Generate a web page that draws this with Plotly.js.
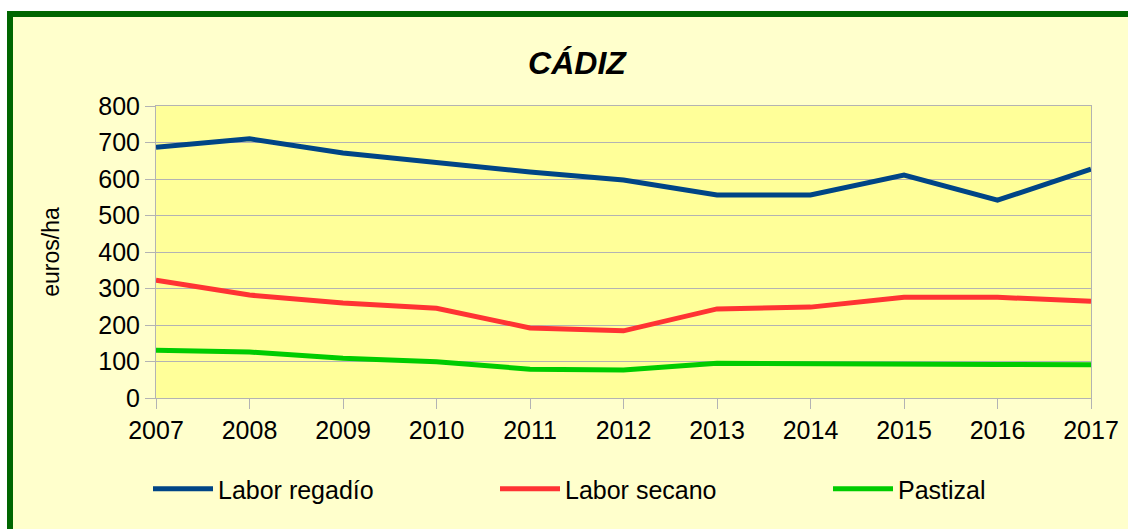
<!DOCTYPE html>
<html>
<head>
<meta charset="utf-8">
<script src="https://cdn.plot.ly/plotly-3.0.1.min.js"></script>
<style>
  html, body { margin: 0; padding: 0; background: #ffffff; width: 1128px; height: 529px; overflow: hidden; }
  #frame { position: absolute; left: 7px; top: 11px; width: 1140px; height: 540px; border: 6px solid #006600; background: #FFFFCC; }
  #chart { position: absolute; left: 0; top: 0; width: 1128px; height: 529px; }
</style>
</head>
<body>
<div id="frame"></div>
<div id="chart"></div>
<script>
const years = [2007, 2008, 2009, 2010, 2011, 2012, 2013, 2014, 2015, 2016, 2017];
const laborRegadio = [687, 710, 671, 644, 619, 597, 556, 556, 611, 542, 627];
const laborSecano  = [323, 282, 260, 246, 192, 184, 244, 249, 276, 276, 265];
const pastizal     = [131, 126, 109, 99, 79, 77, 95, 93, 92, 92, 91];
const seriesNames  = ["Labor regadío", "Labor secano", "Pastizal"];
const seriesColors = ["#004586", "#FF3333", "#00CC00"];
const yTicks = [0, 100, 200, 300, 400, 500, 600, 700, 800];

const font = "'Liberation Sans', Arial, sans-serif";
const legendIds = ["legend", "legend2", "legend3"];
const legendLeft = [148, 495, 828];

const allSeries = [laborRegadio, laborSecano, pastizal];
const traces = allSeries.map((vals, i) => ({
  x: years, y: vals, type: "scatter", mode: "lines", name: seriesNames[i],
  line: { color: seriesColors[i], width: 5 }, hoverinfo: "x+y+name",
  legend: legendIds[i]
}));

const layout = {
  width: 1128, height: 529,
  margin: { l: 156, r: 37, t: 106, b: 131 },
  paper_bgcolor: "rgba(0,0,0,0)",
  plot_bgcolor: "#FFFF99",
  font: { family: font, color: "#000000", size: 25 },
  title: {
    text: "<b><i>CÁDIZ</i></b>",
    font: { family: font, size: 32, color: "#000000" },
    xref: "container", x: 577 / 1128, xanchor: "center",
    yref: "container", y: 1 - 63 / 529, yanchor: "middle"
  },
  xaxis: {
    type: "linear", range: [2007, 2017], tickmode: "array", tickvals: years,
    ticktext: years.map(String),
    showgrid: false, zeroline: false,
    showline: true, linecolor: "#B3B3B3", linewidth: 1, mirror: true,
    ticks: "outside", ticklen: 10, tickcolor: "#B3B3B3",
    tickfont: { family: font, size: 25, color: "#000000" },
    automargin: false
  },
  yaxis: {
    range: [0, 800], tickmode: "array", tickvals: yTicks,
    showgrid: true, gridcolor: "#B3B3B3", gridwidth: 1, zeroline: false,
    showline: true, linecolor: "#B3B3B3", linewidth: 1, mirror: true,
    ticks: "outside", ticklen: 10, tickcolor: "#B3B3B3",
    tickfont: { family: font, size: 25, color: "#000000" },
    title: { text: "euros/ha", font: { family: font, size: 23, color: "#000000" }, standoff: 32 },
    automargin: false
  },
  showlegend: true
};
legendIds.forEach((id, i) => {
  layout[id] = {
    orientation: "h", xref: "container", x: legendLeft[i] / 1128, xanchor: "left",
    yref: "container", y: 1 - 489 / 529, yanchor: "middle",
    bgcolor: "rgba(0,0,0,0)", font: { family: font, size: 25, color: "#000000" },
    itemwidth: 60
  };
});

Plotly.newPlot("chart", traces, layout, { displayModeBar: false, staticPlot: true });
</script>
</body>
</html>
